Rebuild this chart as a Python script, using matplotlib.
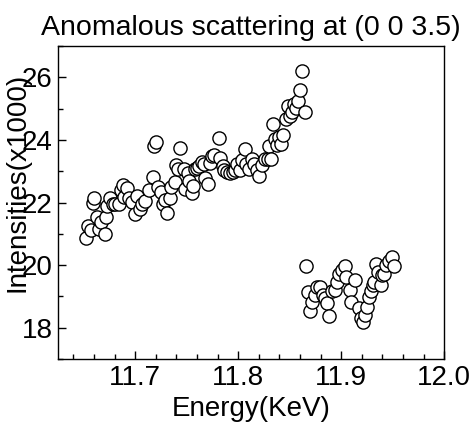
import numpy as np
import matplotlib
matplotlib.use('Agg')
import matplotlib.pyplot as plt
from matplotlib.ticker import MultipleLocator

plt.rcParams['font.family'] = ['Liberation Sans', 'DejaVu Sans']

#=========== data ===========
# upper branch (below the edge)
energy_lo = [11.652, 11.654, 11.657, 11.659, 11.660, 11.663, 11.665, 11.667,
             11.671, 11.672, 11.673, 11.676, 11.678, 11.680, 11.684, 11.686,
             11.688, 11.689, 11.692, 11.694, 11.697, 11.700, 11.702, 11.705,
             11.707, 11.710, 11.713, 11.717, 11.718, 11.720, 11.722, 11.725,
             11.727, 11.729, 11.731, 11.734, 11.735, 11.739, 11.740, 11.742,
             11.744, 11.747, 11.748, 11.751, 11.752, 11.755, 11.756, 11.758,
             11.760, 11.762, 11.765, 11.767, 11.768, 11.771, 11.773, 11.775,
             11.777, 11.781, 11.782, 11.785, 11.786, 11.789, 11.792, 11.795,
             11.797, 11.799, 11.802, 11.804, 11.807, 11.808, 11.811, 11.813,
             11.815, 11.818, 11.820, 11.823, 11.826, 11.829, 11.830, 11.832,
             11.834, 11.836, 11.838, 11.840, 11.842, 11.844, 11.846, 11.848,
             11.850, 11.852, 11.854, 11.856, 11.858, 11.860, 11.862, 11.865]
inten_lo = [20.88, 21.25, 21.11, 21.99, 22.15, 21.54, 21.17, 21.38,
            20.99, 21.54, 21.89, 22.13, 21.94, 21.97, 21.97, 22.39,
            22.55, 22.18, 22.46, 22.15, 22.02, 21.65, 22.21, 21.81,
            21.94, 22.05, 22.39, 22.82, 23.80, 23.93, 22.50, 22.34,
            21.97, 22.07, 21.68, 22.13, 22.50, 22.66, 23.19, 23.08,
            23.75, 23.06, 22.44, 22.94, 22.68, 22.32, 22.52, 23.08,
            23.11, 23.17, 23.29, 23.24, 22.78, 22.60, 23.26, 23.48,
            23.51, 24.06, 23.43, 23.17, 23.05, 22.97, 22.94, 22.97,
            23.03, 23.24, 23.03, 23.35, 23.72, 23.24, 23.08, 23.40,
            23.24, 23.03, 22.84, 23.19, 23.40, 23.40, 23.80, 23.40,
            24.50, 24.04, 23.83, 24.09, 23.88, 24.17, 24.66, 25.07,
            24.76, 24.89, 25.16, 25.03, 25.24, 25.58, 26.20, 24.89]

# lower branch (above the edge)
energy_hi = [11.866, 11.868, 11.870, 11.872, 11.875, 11.877, 11.879, 11.882,
             11.884, 11.886, 11.888, 11.891, 11.894, 11.896, 11.898, 11.901,
             11.904, 11.905, 11.909, 11.910, 11.913, 11.917, 11.919, 11.921,
             11.923, 11.925, 11.927, 11.929, 11.931, 11.932, 11.934, 11.936,
             11.939, 11.940, 11.942, 11.944, 11.946, 11.949, 11.951]
inten_hi = [19.97, 19.15, 18.54, 18.81, 19.04, 19.31, 19.29, 19.04,
            18.94, 18.80, 18.37, 19.18, 19.20, 19.47, 19.73, 19.84,
            19.98, 19.63, 19.20, 18.83, 19.52, 18.62, 18.30, 18.19,
            18.40, 18.67, 18.99, 19.18, 19.36, 19.47, 20.05, 19.78,
            19.36, 19.68, 19.73, 20.00, 20.14, 20.26, 19.97]
#=================================================

energy = np.array(energy_lo + energy_hi)
inten = np.array(inten_lo + inten_hi)

fig = plt.figure(figsize=(4.71, 4.26), dpi=100)
ax = fig.add_axes([0.123, 0.157, 0.820, 0.735])

ax.plot(energy, inten, 'o', mfc='white', mec='black', ms=9.5, mew=1.0,
        linestyle='none')

ax.set_xlim(11.625, 12.0)
ax.set_ylim(17, 27)
ax.xaxis.set_major_locator(MultipleLocator(0.1))
ax.xaxis.set_minor_locator(MultipleLocator(0.02))
ax.yaxis.set_major_locator(MultipleLocator(2))
ax.yaxis.set_minor_locator(MultipleLocator(1))
ax.set_xticks([11.7, 11.8, 11.9, 12.0])
ax.set_xticklabels(['11.7', '11.8', '11.9', '12.0'])

ax.tick_params(which='both', direction='in', top=False, right=False,
               labelsize=20, width=1.0)
ax.tick_params(which='major', length=6, pad=4)
ax.tick_params(which='minor', length=3.5)
for sp in ax.spines.values():
    sp.set_linewidth(1.0)

# label sits over the tick numbers, as in the source figure
ax.set_xlabel('Energy(KeV)', fontsize=20, labelpad=4)
ax.set_ylabel('Intensities(x1000)', fontsize=20)
ax.yaxis.set_label_coords(-0.07, 0.565)
ax.set_title('Anomalous scattering at (0 0 3.5)', fontsize=20.5, pad=8)

fig.savefig('out.png', dpi=100)
